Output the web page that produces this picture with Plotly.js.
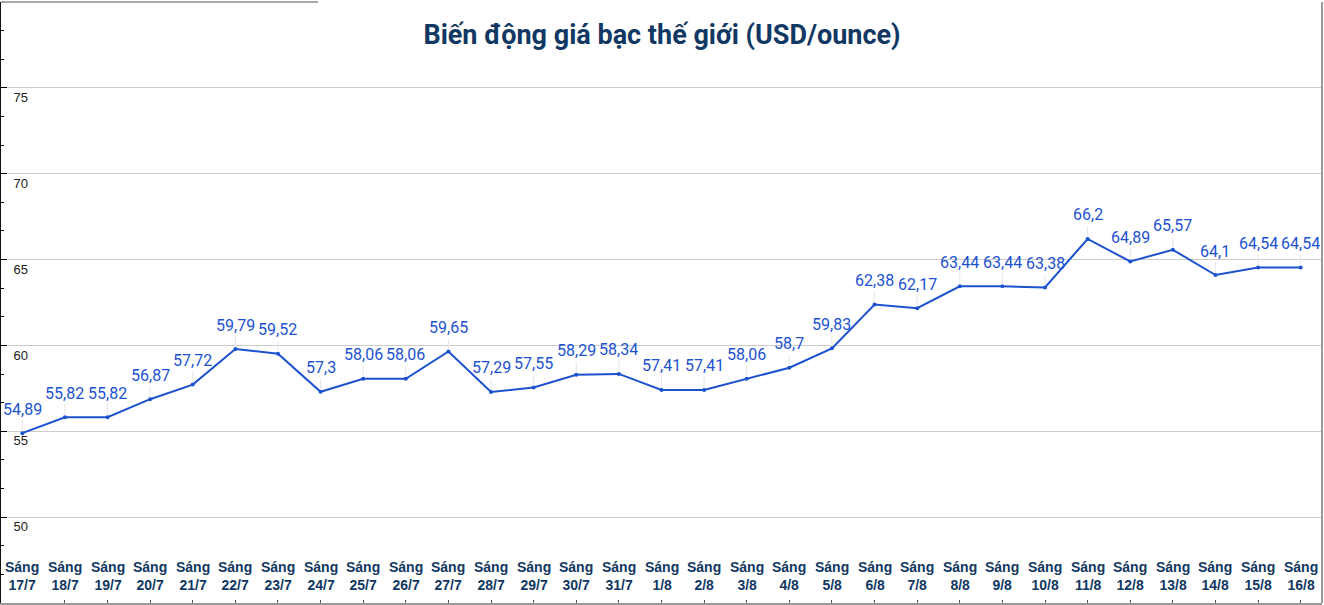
<!DOCTYPE html>
<html>
<head>
<meta charset="utf-8">
<script src="https://cdn.plot.ly/plotly-3.0.1.min.js"></script>
<style>
  body { margin: 0; background: #fff; }
  #bieudo { width: 1324px; height: 605px; }
</style>
</head>
<body>
<div id="bieudo"></div>
<script>
// Giá bạc thế giới theo buổi sáng (USD/ounce)

let ngay = ['17/7', '18/7', '19/7', '20/7', '21/7', '22/7', '23/7', '24/7', '25/7', '26/7',
            '27/7', '28/7', '29/7', '30/7', '31/7', '1/8', '2/8', '3/8', '4/8', '5/8',
            '6/8', '7/8', '8/8', '9/8', '10/8', '11/8', '12/8', '13/8', '14/8', '15/8', '16/8'];

let gia_bac = [54.89, 55.82, 55.82, 56.87, 57.72, 59.79, 59.52, 57.3, 58.06, 58.06,
               59.65, 57.29, 57.55, 58.29, 58.34, 57.41, 57.41, 58.06, 58.7, 59.83,
               62.38, 62.17, 63.44, 63.44, 63.38, 66.2, 64.89, 65.57, 64.1, 64.54, 64.54];

let moc_truc_y = [50, 55, 60, 65, 70, 75];


let chi_so = ngay.map((d, i) => i);

let mau_duong = '#1c52cf';
let mau_chu = '#113763';

let duong_gia = {
  x: chi_so,
  y: gia_bac,
  type: 'scatter',
  mode: 'lines+markers',
  line: { color: mau_duong, width: 2 },
  marker: { color: mau_duong, size: 4 },
  hoverinfo: 'skip'
};

// nhãn giá trị với dấu phẩy thập phân
let nhan_gia = gia_bac.map((v, i) => ({
  x: i,
  y: v,
  xref: 'x',
  yref: 'y',
  text: String(v).replace('.', ','),
  showarrow: true,
  arrowhead: 0,
  arrowwidth: 1,
  arrowcolor: '#e6e6e6',
  ax: 0,
  ay: -24,
  standoff: 2,
  font: { family: 'Roboto, sans-serif', size: 16, color: mau_duong }
}));

// nhãn ngày nằm trong vùng vẽ, sát trục dưới
let nhan_ngay = ngay.map((d, i) => ({
  x: i,
  xref: 'x',
  y: 0,
  yref: 'paper',
  yanchor: 'bottom',
  yshift: 8,
  showarrow: false,
  text: '<b>Sáng<br>' + d + '</b>',
  font: { family: 'Liberation Sans, Arial, sans-serif', size: 14, color: mau_chu }
}));

let layout = {
  width: 1324,
  height: 605,
  margin: { l: 1, r: 2, t: 2, b: 2 },
  paper_bgcolor: '#fff',
  plot_bgcolor: '#fff',
  showlegend: false,
  title: {
    text: '<b>Biến động giá bạc thế giới (USD/ounce)</b>',
    font: { family: 'Roboto, sans-serif', size: 27, color: mau_chu },
    x: 0.5,
    xanchor: 'center',
    yref: 'container',
    y: 1 - 35 / 605,
    yanchor: 'middle'
  },
  xaxis: {
    range: [-0.5, 30.5],
    tickmode: 'array',
    tickvals: chi_so,
    showticklabels: false,
    ticks: 'inside',
    ticklen: 3,
    tickcolor: '#555',
    showgrid: false,
    zeroline: false,
    showline: true,
    linecolor: '#9a9a9a',
    linewidth: 2,
    fixedrange: true
  },
  yaxis: {
    range: [45, 80],
    tickmode: 'array',
    tickvals: moc_truc_y,
    ticklabelposition: 'inside bottom',
    ticklabelstandoff: 11,
    ticks: 'inside',
    ticklen: 6,
    tickcolor: '#000',
    tickfont: { family: 'Liberation Sans, Arial, sans-serif', size: 13, color: '#222' },
    showgrid: true,
    gridcolor: '#cccccc',
    gridwidth: 1,
    zeroline: false,
    showline: true,
    linecolor: '#111',
    linewidth: 2,
    minor: { tickmode: 'linear', tick0: 45, dtick: 5 / 3, ticks: 'inside', ticklen: 3, tickcolor: '#000', showgrid: false },
    fixedrange: true
  },
  annotations: nhan_gia.concat(nhan_ngay),
  shapes: [
    { type: 'line', xref: 'paper', yref: 'paper', x0: 1, x1: 1, y0: 0, y1: 1, line: { color: '#9a9a9a', width: 2 } },
    { type: 'line', xref: 'paper', yref: 'paper', x0: 0, x1: 0.24, y0: 1, y1: 1, line: { color: '#a8a8a8', width: 2 } }
  ]
};

let config = { displayModeBar: false, responsive: false, staticPlot: true };

Plotly.newPlot('bieudo', [duong_gia], layout, config);
</script>
</body>
</html>
